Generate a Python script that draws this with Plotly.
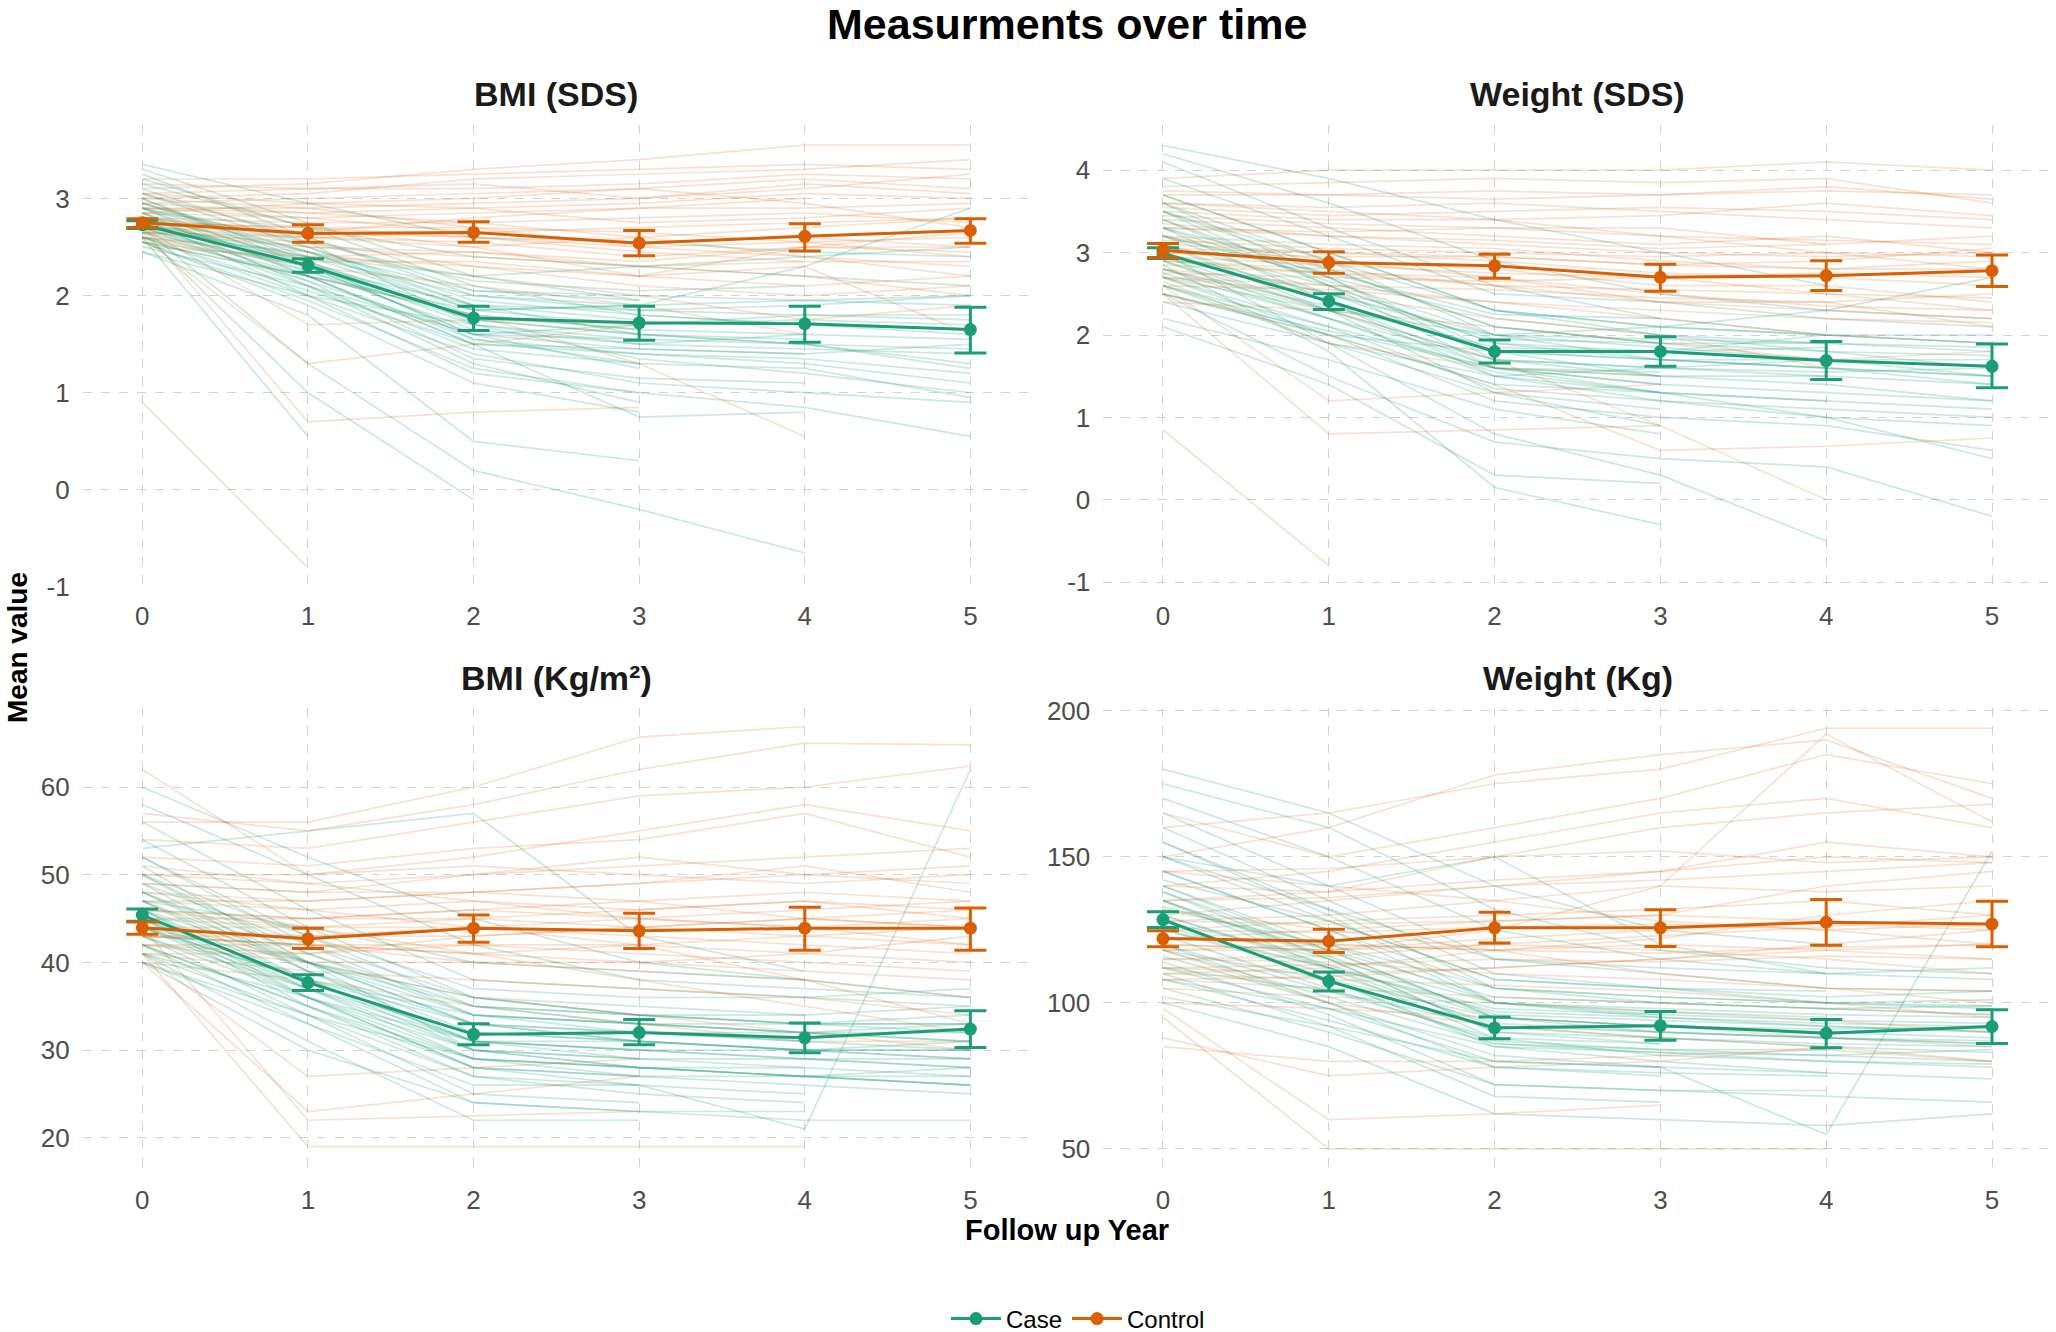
import plotly.graph_objects as go

years = [0, 1, 2, 3, 4, 5]
group_names = ["Case", "Control"]
panel_titles = ["BMI (SDS)", "Weight (SDS)", "BMI (Kg/m²)", "Weight (Kg)"]
main_title = "Measurments over time"
x_title = "Follow up Year"
y_title = "Mean value"

# ---------------- group means and error bar limits ----------------
bmi_sds_case_mean = [2.73, 2.31, 1.77, 1.72, 1.71, 1.65]
bmi_sds_case_lo = [2.69, 2.24, 1.64, 1.54, 1.52, 1.41]
bmi_sds_case_hi = [2.77, 2.38, 1.89, 1.89, 1.89, 1.88]
bmi_sds_ctrl_mean = [2.75, 2.64, 2.65, 2.54, 2.61, 2.67]
bmi_sds_ctrl_lo = [2.70, 2.55, 2.55, 2.41, 2.46, 2.54]
bmi_sds_ctrl_hi = [2.79, 2.73, 2.76, 2.67, 2.74, 2.79]

wt_sds_case_mean = [2.99, 2.41, 1.80, 1.80, 1.69, 1.62]
wt_sds_case_lo = [2.93, 2.31, 1.66, 1.62, 1.46, 1.36]
wt_sds_case_hi = [3.06, 2.50, 1.94, 1.98, 1.92, 1.89]
wt_sds_ctrl_mean = [3.03, 2.88, 2.84, 2.70, 2.72, 2.78]
wt_sds_ctrl_lo = [2.94, 2.75, 2.69, 2.53, 2.54, 2.59]
wt_sds_ctrl_hi = [3.11, 3.01, 2.98, 2.86, 2.90, 2.97]

bmi_kg_case_mean = [45.4, 37.7, 31.8, 32.0, 31.4, 32.4]
bmi_kg_case_lo = [44.7, 36.8, 30.6, 30.6, 29.7, 30.3]
bmi_kg_case_hi = [46.1, 38.6, 33.0, 33.5, 33.1, 34.5]
bmi_kg_ctrl_mean = [43.95, 42.7, 43.9, 43.6, 43.9, 43.9]
bmi_kg_ctrl_lo = [43.2, 41.6, 42.3, 41.6, 41.4, 41.4]
bmi_kg_ctrl_hi = [44.6, 43.9, 45.4, 45.6, 46.3, 46.2]

wt_kg_case_mean = [128.5, 107.4, 91.4, 92.2, 89.6, 91.9]
wt_kg_case_lo = [125.8, 104.1, 87.7, 87.2, 84.6, 86.1]
wt_kg_case_hi = [131.2, 110.6, 95.2, 97.0, 94.3, 97.6]
wt_kg_ctrl_mean = [122.0, 121.1, 125.7, 125.7, 127.6, 127.0]
wt_kg_ctrl_lo = [119.2, 117.2, 120.5, 119.3, 119.7, 119.2]
wt_kg_ctrl_hi = [124.7, 125.2, 131.0, 131.9, 135.4, 134.8]

# ---------------- individual trajectories (estimated) ----------------
N = None
bmi_sds_case_ind = [
    [3.35, 2.95, 2.6, 2.55, 2.45, 2.4], [3.3, 2.75, 2.2, 1.95, N, N],
    [3.25, 2.6, 2.0, 1.85, 1.9, 2.0], [3.15, 2.7, 2.4, 2.3, 2.2, 2.1],
    [3.05, 2.5, 1.9, 1.6, 1.5, 1.3], [3.0, 2.3, 1.6, 1.25, N, N],
    [2.95, 2.45, 1.85, 1.7, 1.75, 1.7], [2.9, 2.2, 1.5, 1.4, 1.3, 1.1],
    [2.9, 2.55, 2.15, 2.05, 2.1, N], [2.85, 2.1, 1.3, 0.9, N, N],
    [2.8, 2.3, 1.7, 1.5, 1.6, 1.55], [2.8, 2.0, 1.2, 1.0, 0.85, 0.55],
    [2.75, 2.4, 2.0, 1.9, N, N], [2.7, 1.3, 0.2, -0.2, -0.65, N],
    [2.7, 2.25, 1.75, 1.6, 1.5, 1.25], [2.65, 1.0, -0.1, N, N, N],
    [2.65, 2.15, 1.6, 1.45, 1.4, N], [2.6, 0.55, N, N, N, N],
    [2.6, 2.0, 1.4, 1.1, 1.0, 0.9], [2.55, 2.2, 1.85, 1.9, 2.3, 2.9],
    [2.55, 1.9, 1.1, 0.8, N, N], [2.5, 2.1, 1.6, 1.7, 1.8, 1.8],
    [2.45, 1.8, 0.5, 0.3, N, N], [2.45, 2.0, 1.7, 1.55, N, N],
    [2.75, 2.35, 1.55, 1.3, 1.25, 0.95], [2.95, 2.5, 1.95, 1.8, 1.7, 1.65],
    [2.85, 2.35, 1.8, 1.65, 1.6, N], [3.1, 2.55, 1.7, 1.35, 1.2, 1.0],
    [2.6, 2.2, 1.5, 0.75, 0.8, N], [2.7, 2.4, 2.2, 2.3, 2.4, 2.5],
    [2.9, 2.45, 1.9, 1.75, N, N], [2.8, 2.25, 1.65, 1.5, 1.45, 1.4],
    [3.0, 2.35, 1.75, 1.6, 1.55, N], [2.7, 2.1, 1.45, 1.3, N, N],
    [2.65, 2.3, 1.9, 1.85, 1.8, 1.75], [2.85, 2.2, 1.55, 1.4, 1.35, 1.2],
    [3.05, 2.6, 2.05, 1.95, N, N], [2.6, 2.05, 1.5, 1.45, 1.4, 1.5],
    [2.75, 2.15, 1.35, 1.15, 1.1, N], [2.95, 2.4, 1.85, 1.9, 1.95, 2.0],
    [2.55, 1.95, 1.25, 1.0, N, N], [2.8, 2.45, 2.05, 2.0, 1.95, 1.9],
    [2.9, 2.3, 1.6, 1.55, 1.5, 1.45], [2.7, 2.2, 1.8, 1.65, N, N],
    [3.2, 2.7, 2.1, 1.8, 1.7, 1.6],
]
bmi_sds_ctrl_ind = [
    [3.1, 3.15, 3.3, 3.4, 3.55, 3.55], [3.2, 3.2, 3.25, 3.3, 3.35, 3.3],
    [3.0, 3.05, 3.2, 3.25, 3.3, 3.4], [2.95, 3.0, 3.05, 3.1, 3.2, 3.1],
    [2.9, 2.9, 2.95, 3.0, 3.15, 3.05], [2.85, 2.8, 2.85, 2.9, 2.9, 2.95],
    [2.8, 2.75, 2.75, 2.6, 2.7, 2.8], [2.75, 2.7, 2.7, 2.65, 2.55, 2.6],
    [2.7, 2.6, 2.55, 2.4, 2.5, 2.5], [2.7, 2.65, 2.8, 2.9, 3.0, N],
    [2.65, 2.5, 2.4, 2.3, 2.2, 2.0], [2.6, 2.3, 2.1, 1.9, 1.6, N],
    [2.6, 1.3, 1.5, 1.7, N, N], [2.7, 0.7, 0.8, 0.85, N, N],
    [0.9, -0.8, N, N, N, N], [2.55, 2.2, 1.8, 1.3, 0.55, N],
    [2.8, 2.6, 2.5, 2.6, 2.4, 2.2], [2.9, 2.85, 2.9, 2.75, 2.8, 2.9],
    [3.05, 2.95, 3.0, 3.1, 2.95, 2.7], [2.65, 2.55, 2.3, 2.2, 2.3, 1.6],
    [2.75, 2.7, 2.6, 2.45, 2.35, N], [2.85, 2.7, 2.5, 2.2, 2.5, 2.65],
    [2.5, 2.4, 2.45, 2.35, 2.5, 2.45], [3.0, 2.9, 2.7, 2.5, 2.4, 2.3],
    [2.7, 1.7, 1.75, 1.7, N, N], [2.6, 2.45, 2.2, 2.0, 1.75, 1.9],
    [3.15, 3.1, 3.1, 3.15, 3.25, 3.2], [2.95, 2.85, 2.75, 2.8, 2.85, 2.75],
    [2.8, 2.65, 2.6, 2.5, 2.55, 2.4], [2.65, 2.6, 2.65, 2.7, 2.75, 2.8],
    [2.55, 2.35, 2.35, 2.2, 2.1, 2.2], [3.05, 3.1, 3.15, 3.0, 3.1, 3.25],
    [2.9, 2.8, 2.65, 2.55, 2.6, 2.5], [2.7, 2.5, 2.45, 2.3, 2.35, 2.35],
    [2.85, 2.95, 2.9, 2.95, 3.05, 3.0], [2.6, 2.4, 2.3, 2.1, 2.0, 2.1],
]
wt_sds_case_ind = [
    [4.3, 3.9, 3.4, 3.0, 2.6, N], [4.2, 3.6, 2.9, 2.5, 2.3, 2.2],
    [4.1, 3.3, 2.6, 2.2, 2.0, 1.9], [3.9, 3.2, 2.5, 2.4, 2.2, 2.1],
    [3.7, 3.0, 2.3, 2.0, 1.8, 1.6], [3.6, 2.7, 1.8, 1.5, N, N],
    [3.5, 2.9, 2.3, 2.1, 2.0, 2.0], [3.4, 2.6, 1.9, 1.7, 1.6, 1.4],
    [3.3, 2.4, 1.5, 1.2, 1.0, 0.5], [3.2, 2.7, 2.2, 2.0, 1.9, N],
    [3.1, 2.3, 1.3, 0.9, N, N], [3.0, 2.4, 1.8, 1.7, 1.7, 1.5],
    [3.0, 1.9, 0.8, 0.3, -0.5, N], [2.9, 2.3, 1.6, 1.4, 1.3, 1.2],
    [2.85, 1.8, 0.15, -0.3, N, N], [2.8, 2.2, 1.7, 1.6, 1.5, N],
    [2.7, 2.0, 1.2, 1.0, 0.9, 0.6], [2.7, 2.3, 2.0, 2.1, 2.3, 2.7],
    [2.6, 1.9, 1.3, 1.1, N, N], [2.6, 2.1, 1.6, 1.5, 1.5, 1.4],
    [2.5, 1.5, 0.7, 0.5, 0.4, -0.2], [2.5, 2.0, 1.8, 1.8, N, N],
    [2.4, 1.9, 1.5, 1.6, 1.7, 1.7], [2.2, 1.7, 1.1, 0.8, N, N],
    [2.1, 1.4, 0.3, 0.2, N, N], [3.3, 2.8, 2.1, 1.9, 1.9, 1.8],
    [2.95, 2.5, 2.0, 1.85, 1.7, N], [3.6, 2.9, 2.0, 1.7, 1.6, 1.5],
    [2.75, 2.2, 1.55, 1.3, 1.0, 0.9], [3.1, 2.6, 1.9, 1.8, 2.0, N],
    [3.5, 2.8, 2.1, 1.9, N, N], [3.2, 2.5, 1.8, 1.7, 1.6, 1.5],
    [2.9, 2.2, 1.5, 1.3, 1.2, N], [3.7, 3.0, 2.3, 2.1, 2.0, 1.9],
    [2.6, 2.0, 1.4, 1.3, N, N], [3.0, 2.5, 1.95, 1.9, 1.8, 1.75],
    [3.4, 2.7, 1.7, 1.5, 1.4, 1.2], [2.8, 2.35, 1.85, 1.8, 1.85, N],
    [3.1, 2.4, 1.6, 1.4, N, N], [2.7, 2.1, 1.35, 1.2, 1.1, 1.0],
    [3.3, 2.65, 2.0, 1.95, 1.9, 1.85], [2.5, 2.05, 1.6, 1.55, N, N],
    [3.5, 2.6, 1.6, 1.3, 1.2, 1.1], [2.95, 2.3, 1.7, 1.6, 1.55, 1.6],
    [3.2, 2.75, 2.25, 2.2, N, N],
]
wt_sds_ctrl_ind = [
    [3.9, 4.0, 4.0, 4.0, 4.1, 4.0], [3.8, 3.85, 3.9, 3.85, 3.9, 3.6],
    [3.7, 3.7, 3.75, 3.7, 3.8, 3.65], [3.6, 3.55, 3.6, 3.5, 3.4, 3.3],
    [3.5, 3.4, 3.4, 3.45, 3.6, 3.45], [3.4, 3.3, 3.2, 3.1, 3.2, 3.0],
    [3.3, 3.2, 3.1, 3.0, 2.95, 3.0], [3.2, 3.1, 3.05, 2.9, 2.8, 2.8],
    [3.1, 3.0, 2.9, 2.75, 2.7, 2.6], [3.0, 2.9, 2.8, 2.6, 2.6, 2.4],
    [2.9, 2.8, 2.6, 2.4, 2.3, 2.2], [2.8, 2.6, 2.4, 2.2, 2.0, 1.9],
    [2.7, 2.5, 2.2, 2.0, 1.6, N], [2.6, 1.2, 1.3, 1.4, N, N],
    [2.5, 0.8, 0.85, 0.9, N, N], [0.85, -0.8, N, N, N, N],
    [2.8, 2.3, 1.7, 0.9, 0.0, N], [2.5, 2.0, 1.4, 0.6, 0.65, 0.75],
    [3.05, 3.0, 2.95, 2.85, 2.9, 3.05], [2.75, 2.7, 2.65, 2.7, 2.5, 2.3],
    [3.6, 3.5, 3.4, 3.2, 3.0, 2.8], [2.4, 2.3, 2.1, 1.9, 1.7, 1.8],
    [3.3, 3.25, 3.3, 3.3, 3.1, N], [2.9, 2.75, 2.7, 2.5, 2.35, 2.3],
    [2.65, 1.9, 1.6, 1.5, N, N], [3.2, 2.9, 2.7, 2.4, 2.4, 2.1],
    [3.75, 3.7, 3.65, 3.7, 3.75, 3.7], [3.45, 3.35, 3.3, 3.2, 3.15, 3.1],
    [3.15, 3.05, 3.0, 2.95, 3.0, 2.95], [2.95, 2.85, 2.75, 2.7, 2.75, 2.7],
    [2.7, 2.6, 2.55, 2.45, 2.4, 2.5], [3.55, 3.45, 3.5, 3.55, 3.5, 3.4],
    [2.85, 2.75, 2.6, 2.55, 2.5, 2.45], [3.35, 3.2, 3.15, 3.05, 3.1, 3.2],
    [2.6, 2.55, 2.4, 2.3, 2.2, 2.15], [3.0, 2.95, 2.95, 2.85, 2.8, 2.9],
]
bmi_kg_case_ind = [
    [60, 52, 45, 40, 38, N], [58, 50, 42, 38, 37, 36],
    [56, 46, 38, 37, 36, 35], [54, 44, 36, 34, 33, 32],
    [52, 42, 34, 32, 32, 31], [51, 40, 33, 31, N, N],
    [50, 43, 37, 36, 36, 37], [49, 39, 31, 30, 29, 28],
    [48, 41, 35, 34, 34, N], [47, 38, 30, 28, 27, 26],
    [46, 36, 29, 27, N, N], [46, 40, 34, 33, 33, 34],
    [45, 37, 30, 29, 28, 27], [45, 35, 27, 25, 24, N],
    [44, 38, 33, 32, 31, 30], [44, 36, 28, 27, 26, 25],
    [43, 34, 25, 24, N, N], [43, 37, 32, 31, 30, 29],
    [42, 35, 28, 26, 21, 62], [42, 33, 24, 23, 22, 22],
    [41, 36, 31, 30, 29, 28], [41, 31, 22, 22, N, N],
    [40, 34, 29, 28, 27, 26], [40, 30, 24, 23, 23, N],
    [47, 44, 40, 39, 38, 36], [53, 55, 57, 43, 39, N],
    [48, 39, 33, 31, 30, 30], [44, 40, 36, 34, 33, 33],
    [50, 40, 30, 28, 27, 27], [45, 38, 31, 29, 29, 29],
    [48, 40, 33, 32, 31, N], [46, 38, 31, 30, 30, 30],
    [44, 37, 31, 31, 30, 31], [50, 41, 34, 33, 32, 33],
    [43, 36, 30, 29, N, N], [47, 39, 32, 31, 30, 29],
    [45, 36, 28, 27, 27, 28], [42, 35, 29, 28, 28, N],
    [49, 42, 36, 35, 34, 35], [41, 34, 27, 26, N, N],
    [46, 37, 29, 28, 27, 26], [44, 38, 34, 33, 32, 32],
    [52, 43, 35, 33, 32, 31], [40, 33, 26, 26, 25, N],
    [47, 40, 35, 34, 33, 33],
]
bmi_kg_ctrl_ind = [
    [56, 56, 60, 65.7, 66.9, N], [57, 55, 58, 62, 65, 64.8],
    [54, 53, 56, 59, 60, 62.4], [62, 50, 52, 55, 58, 55],
    [52, 51, 53, 54, 57, 52], [50, 49, 50, 51, 52, 53],
    [49, 48, 50, 52, 50, 49], [48, 47, 48, 49, 51, 48],
    [47, 46, 47, 46, 47, 46], [46, 45, 46, 47, 45, 44],
    [45, 44, 44, 45, 46, 47], [44, 43, 44, 43, 42, 41],
    [43, 42, 42, 41, 40, 39], [42, 41, 43, 44, 45, 44],
    [42, 40, 40, 39, 38, 36], [41, 39, 38, 37, 36, 34],
    [41, 27, 28, 29, N, N], [40, 23, 25, 27, N, N],
    [41, 19, 19, 19, 19, N], [44, 22, 22.5, 23, N, N],
    [45, 40, 36, 34, 32, 30], [48, 46, 44, 42, 38, 33],
    [43, 42, 41, 42, 43, 44], [46, 44, 41, 38, 35, 32],
    [51, 49, 47, 45, 44, 42], [40, 38, 35, 33, 31, 31],
    [47, 47, 48, 49, 50, 51], [45, 45, 46, 45, 44, 45],
    [43, 43, 43, 44, 45, 46], [42, 42, 41, 40, 41, 40],
    [49, 48, 48, 47, 48, 47], [44, 44, 45, 46, 47, 45],
    [46, 45, 45, 44, 43, 42], [41, 41, 42, 42, 41, 43],
    [50, 50, 51, 50, 49, 50], [43, 42, 40, 40, 39, 38],
]
wt_kg_case_ind = [
    [180, 165, 140, 125, 120, N], [175, 160, 132, 118, 112, 110],
    [170, 150, 125, 115, 110, 108], [165, 140, 115, 110, 105, 104],
    [160, 135, 110, 105, 100, 98], [155, 130, 100, 96, N, N],
    [150, 132, 115, 112, 110, 112], [145, 125, 100, 95, 92, 90],
    [142, 128, 108, 105, 104, N], [138, 118, 95, 90, 88, 86],
    [135, 115, 90, 86, N, N], [132, 120, 105, 102, 100, 101],
    [130, 112, 92, 88, 85, 83], [128, 108, 85, 80, 76, N],
    [125, 112, 97, 95, 93, 92], [123, 105, 87, 84, 82, 80],
    [120, 100, 78, 75, N, N], [118, 108, 95, 92, 90, 88],
    [116, 100, 82, 78, 55, 152], [114, 96, 72, 70, 68, 66],
    [112, 104, 92, 90, 88, 86], [110, 92, 68, 66, N, N],
    [108, 98, 85, 83, 80, 78], [105, 90, 72, 70, 70, N],
    [102, 92, 80, 78, 76, 74], [150, 140, 150, 120, 110, N],
    [140, 118, 95, 92, 90, 92], [128, 115, 100, 98, 96, 95],
    [135, 112, 88, 82, 80, 79], [100, 85, 62, 60, 58, 62],
    [140, 120, 100, 97, 95, N], [130, 113, 95, 92, 91, 92],
    [125, 110, 93, 90, 88, 87], [145, 125, 105, 102, 100, 99],
    [120, 104, 88, 86, N, N], [135, 116, 96, 94, 92, 90],
    [128, 108, 86, 83, 82, 84], [118, 102, 86, 84, 84, N],
    [150, 128, 108, 105, 102, 104], [112, 98, 80, 78, N, N],
    [138, 115, 90, 88, 86, 85], [126, 112, 98, 96, 94, 93],
    [155, 132, 105, 100, 98, 96], [108, 94, 78, 76, 75, N],
    [133, 118, 102, 100, 98, 99],
]
wt_kg_ctrl_ind = [
    [160, 165, 175, 180, 194, 194], [150, 160, 178, 185, 190, 170],
    [165, 150, 160, 170, 185, 175], [140, 145, 155, 165, 170, 160],
    [135, 138, 150, 160, 165, 168], [130, 135, 140, 145, 155, 150],
    [128, 130, 135, 140, 138, 140], [125, 128, 130, 132, 135, 130],
    [122, 125, 128, 130, 140, 145], [120, 118, 122, 125, 127, 125],
    [118, 120, 118, 120, 118, 115], [115, 116, 120, 118, 115, 110],
    [112, 110, 112, 115, 120, 125], [110, 108, 106, 104, 100, 95],
    [108, 105, 102, 100, 98, 96], [105, 102, 100, 97, 94, 90],
    [100, 98, 95, 92, 88, 85], [98, 60, 62, 65, N, N],
    [95, 50, 50, 50, 50, N], [88, 75, 78, 80, 85, N],
    [85, 80, 80, 82, 84, 80], [132, 125, 118, 110, 105, 100],
    [145, 140, 135, 128, 125, 120], [118, 100, 92, 88, 85, 80],
    [110, 112, 118, 122, 130, 135], [120, 118, 125, 140, 192, 162],
    [135, 136, 140, 142, 145, 148], [125, 124, 126, 127, 125, 127],
    [118, 118, 120, 123, 126, 130], [112, 113, 115, 114, 116, 115],
    [140, 138, 142, 145, 150, 148], [128, 127, 128, 130, 128, 126],
    [122, 120, 118, 117, 119, 120], [108, 109, 112, 115, 118, 120],
    [145, 146, 150, 152, 148, 150], [115, 114, 110, 108, 105, 104],
]

# ---------------- y ticks / ranges per panel ----------------
y_ticks = [[-1, 0, 1, 2, 3], [-1, 0, 1, 2, 3, 4], [20, 30, 40, 50, 60], [50, 100, 150, 200]]
y_ranges = [[-1.01, 3.758], [-1.07, 4.551], [16.1, 69.0], [42.1, 200.9]]

CASE = "#1B9E77"
CTRL = "#D95F02"
CASE_FAINT = "rgba(27,158,119,0.23)"
CTRL_FAINT = "rgba(217,95,2,0.19)"
FONT = "Liberation Sans, Arial, Helvetica, sans-serif"

panels = [
    (bmi_sds_case_ind, bmi_sds_ctrl_ind,
     (bmi_sds_case_mean, bmi_sds_case_lo, bmi_sds_case_hi),
     (bmi_sds_ctrl_mean, bmi_sds_ctrl_lo, bmi_sds_ctrl_hi)),
    (wt_sds_case_ind, wt_sds_ctrl_ind,
     (wt_sds_case_mean, wt_sds_case_lo, wt_sds_case_hi),
     (wt_sds_ctrl_mean, wt_sds_ctrl_lo, wt_sds_ctrl_hi)),
    (bmi_kg_case_ind, bmi_kg_ctrl_ind,
     (bmi_kg_case_mean, bmi_kg_case_lo, bmi_kg_case_hi),
     (bmi_kg_ctrl_mean, bmi_kg_ctrl_lo, bmi_kg_ctrl_hi)),
    (wt_kg_case_ind, wt_kg_ctrl_ind,
     (wt_kg_case_mean, wt_kg_case_lo, wt_kg_case_hi),
     (wt_kg_ctrl_mean, wt_kg_ctrl_lo, wt_kg_ctrl_hi)),
]

W, H = 2056, 1332
x_domains = [[82.7 / W, 1030 / W], [1103.3 / W, 2051.7 / W]]
y_domains = [[1 - 588 / H, 1 - 124.8 / H], [1 - 1172 / H, 1 - 708.1 / H]]

fig = go.Figure()
layout = {}
for i, (case_ind, ctrl_ind, case_stats, ctrl_stats) in enumerate(panels):
    k = i + 1
    xa = "x" if k == 1 else f"x{k}"
    ya = "y" if k == 1 else f"y{k}"
    row, col = divmod(i, 2)
    # individual lines, interleaved so neither group is fully on top
    n = max(len(case_ind), len(ctrl_ind))
    for j in range(n):
        for ind, colr in ((case_ind, CASE_FAINT), (ctrl_ind, CTRL_FAINT)):
            if j < len(ind):
                fig.add_trace(go.Scatter(
                    x=years, y=ind[j], mode="lines", xaxis=xa, yaxis=ya,
                    line=dict(color=colr, width=1.7), showlegend=False,
                    hoverinfo="skip", connectgaps=False))
    # means with error bars
    for name, stats, colr in (("Case", case_stats, CASE), ("Control", ctrl_stats, CTRL)):
        mean, lo, hi = stats
        fig.add_trace(go.Scatter(
            x=years, y=mean, mode="lines+markers", name=name, xaxis=xa, yaxis=ya,
            line=dict(color=colr, width=3), marker=dict(color=colr, size=13),
            error_y=dict(type="data", symmetric=False,
                         array=[h - m for h, m in zip(hi, mean)],
                         arrayminus=[m - l for m, l in zip(mean, lo)],
                         color=colr, thickness=3, width=16),
            showlegend=(k == 1), legendgroup=name))
    axis_common = dict(showgrid=True, gridcolor="#d2d2d2", griddash="dash", gridwidth=1,
                       zeroline=False, showline=False, ticks="",
                       tickfont=dict(family=FONT, size=26, color="#4d4d4d"))
    layout["xaxis" if k == 1 else f"xaxis{k}"] = dict(
        domain=x_domains[col], anchor=ya, range=[-0.36, 5.36],
        tickvals=years, ticktext=[str(v) for v in years], ticklabelstandoff=10,
        **axis_common)
    layout["yaxis" if k == 1 else f"yaxis{k}"] = dict(
        domain=y_domains[row], anchor=xa, range=y_ranges[i],
        tickvals=y_ticks[i], ticktext=[str(v) for v in y_ticks[i]], ticklabelstandoff=12,
        **axis_common)

annotations = []
title_pos = [(0.2706, 1 - 94.4 / H), (0.7673, 1 - 94.4 / H),
             (0.2706, 1 - 678 / H), (0.7673, 1 - 678 / H)]
for t, (x, y) in zip(panel_titles, title_pos):
    annotations.append(dict(text=f"<b>{t}</b>", x=x, y=y, xref="paper", yref="paper",
                            showarrow=False, xanchor="center", yanchor="middle",
                            font=dict(family=FONT, size=34, color="#1a1a1a")))
annotations.append(dict(text=f"<b>{main_title}</b>", x=1067 / W, y=1 - 24 / H,
                        xref="paper", yref="paper", showarrow=False,
                        xanchor="center", yanchor="middle",
                        font=dict(family=FONT, size=43, color="black")))
annotations.append(dict(text=f"<b>{x_title}</b>", x=1067 / W, y=1 - 1230 / H,
                        xref="paper", yref="paper", showarrow=False,
                        xanchor="center", yanchor="middle",
                        font=dict(family=FONT, size=29, color="black")))
annotations.append(dict(text=f"<b>{y_title}</b>", x=17 / W, y=1 - 648 / H,
                        xref="paper", yref="paper", showarrow=False, textangle=-90,
                        xanchor="center", yanchor="middle",
                        font=dict(family=FONT, size=28, color="black")))

fig.update_layout(
    width=W, height=H, margin=dict(l=0, r=0, t=0, b=0, autoexpand=False),
    paper_bgcolor="white", plot_bgcolor="white",
    font=dict(family=FONT),
    annotations=annotations,
    legend=dict(orientation="h", x=1078 / W, xanchor="center", y=1 - 1319 / H,
                yanchor="middle", itemwidth=50,
                font=dict(family=FONT, size=24, color="black"),
                bgcolor="rgba(0,0,0,0)"),
    **layout,
)

fig.write_html("out.html")
